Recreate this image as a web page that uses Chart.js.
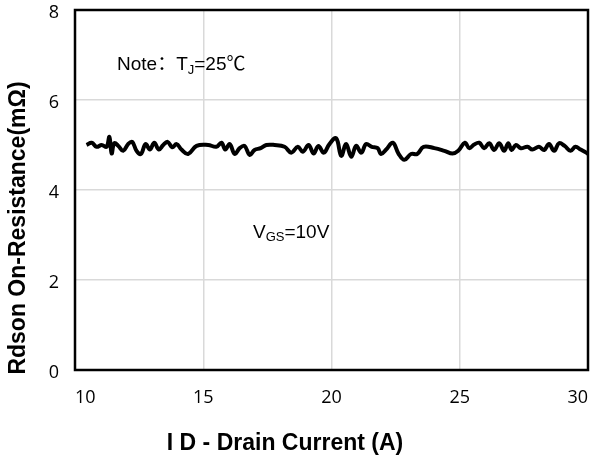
<!DOCTYPE html>
<html>
<head>
<meta charset="utf-8">
<script src="https://cdn.jsdelivr.net/npm/chart.js@4.4.1/dist/chart.umd.min.js"></script>
<style>
  html, body { margin: 0; padding: 0; background: #fff; }
  #wrap { width: 590px; height: 459px; }
</style>
</head>
<body>
<div id="wrap"><canvas id="myChart"></canvas></div>
<script>
// drain current (A) and on-resistance (mOhm)
const currentA = [
  10.45, 10.65, 10.84, 11.04, 11.23, 11.34, 11.43, 11.53, 11.69, 11.88,
  12.07, 12.23, 12.40, 12.57, 12.75, 12.92, 13.09, 13.27, 13.44, 13.61,
  13.79, 13.96, 14.15, 14.41, 14.74, 15.19, 15.51, 15.71, 15.86, 16.03,
  16.23, 16.42, 16.61, 16.81, 17.00, 17.24, 17.46, 17.78, 18.17, 18.43,
  18.69, 18.88, 19.11, 19.30, 19.49, 19.70, 19.92, 20.18, 20.38, 20.57,
  20.77, 20.96, 21.16, 21.35, 21.57, 21.80, 21.93, 22.13, 22.39, 22.61,
  22.84, 23.10, 23.34, 23.59, 24.01, 24.40, 24.72, 24.94, 25.20, 25.37,
  25.56, 25.76, 25.95, 26.15, 26.34, 26.54, 26.73, 26.89, 27.02, 27.19,
  27.38, 27.64, 27.83, 28.09, 28.29, 28.48, 28.68, 28.87, 29.09, 29.32,
  29.51, 29.71, 29.93, 30.00
];
const rdson = [
  5.00, 5.05, 4.96, 5.00, 4.96, 5.18, 4.81, 5.04, 4.98, 4.87,
  5.02, 5.07, 4.87, 4.80, 5.02, 4.90, 5.05, 4.90, 5.00, 5.07,
  4.95, 5.02, 4.90, 4.80, 4.98, 5.00, 4.96, 5.05, 4.90, 5.02,
  4.80, 4.93, 4.98, 4.78, 4.89, 4.93, 5.00, 5.00, 4.96, 4.83,
  4.96, 4.85, 5.00, 4.81, 4.98, 4.83, 5.02, 5.15, 4.76, 5.02,
  4.74, 4.98, 4.83, 5.02, 4.96, 4.93, 4.80, 4.90, 5.05, 4.81,
  4.67, 4.80, 4.80, 4.96, 4.93, 4.87, 4.81, 4.87, 5.05, 4.93,
  5.01, 5.05, 4.93, 5.04, 4.89, 5.04, 4.87, 5.04, 4.89, 5.00,
  4.93, 4.96, 4.90, 4.96, 4.89, 5.02, 4.87, 5.04, 4.98, 4.87,
  4.96, 4.90, 4.83, 4.80
];
const xTicks = [10, 15, 20, 25, 30];
const yTicks = [0, 2, 4, 6, 8];

const xTitle = "I D - Drain Current (A)";
const yTitle = "Rdson On-Resistance(mΩ)";

const textFont = "'Liberation Sans', Arial, 'Noto Sans CJK SC', sans-serif";

// draws a run of text pieces, some as subscripts
function drawRun(ctx, x, y, parts) {
  parts.forEach((p) => {
    ctx.font = `${p.size}px ${textFont}`;
    ctx.fillText(p.t, x, y + (p.dy || 0));
    x += ctx.measureText(p.t).width;
  });
}

const framePlugin = {
  id: "frame",
  afterDraw: (chart) => {
    const { ctx, chartArea: a } = chart;
    ctx.save();
    ctx.strokeStyle = "#000";
    ctx.lineWidth = 2.5;
    ctx.strokeRect(a.left, a.top, a.right - a.left, a.bottom - a.top);

    ctx.fillStyle = "#000";
    ctx.textAlign = "left";
    ctx.textBaseline = "alphabetic";
    drawRun(ctx, 117, 70, [
      { t: "Note：", size: 19 },
      { t: "T", size: 19 },
      { t: "J", size: 13, dy: 4 },
      { t: "=25℃", size: 19 },
    ]);
    drawRun(ctx, 253, 238, [
      { t: "V", size: 19 },
      { t: "GS", size: 13, dy: 3 },
      { t: "=10V", size: 19 },
    ]);

    // axis titles
    ctx.font = `bold 23px ${textFont}`;
    ctx.textAlign = "center";
    ctx.textBaseline = "middle";
    ctx.fillText(xTitle, 285, 444);
    ctx.translate(19, 228);
    ctx.rotate(-Math.PI / 2);
    ctx.fillText(yTitle, 0, 0);
    ctx.restore();
  },
};

const ctx = document.getElementById("myChart").getContext("2d");
new Chart(ctx, {
  type: "line",
  data: {
    datasets: [
      {
        data: currentA.map((x, i) => ({ x: x, y: rdson[i] })),
        borderColor: "#000",
        borderWidth: 4,
        pointRadius: 0,
        tension: 0.4,
        fill: false,
      },
    ],
  },
  plugins: [framePlugin],
  options: {
    responsive: true,
    maintainAspectRatio: false,
    animation: false,
    layout: { padding: { left: 0, right: 2, top: 10, bottom: 0 } },
    plugins: { legend: { display: false }, tooltip: { enabled: false } },
    scales: {
      x: {
        type: "linear",
        min: 10,
        max: 30,
        afterBuildTicks: (axis) => {
          axis.ticks = xTicks.map((v) => ({ value: v }));
        },
        afterFit: (scale) => {
          scale.height = 89;
          scale.paddingLeft = 0;
          scale.paddingRight = 0;
        },
        grid: { color: "#d9d9d9", lineWidth: 1.5, drawTicks: false },
        border: { display: false },
        ticks: {
          align: "inner",
          padding: 17,
          color: "#000",
          font: { family: "'Open Sans'", size: 18 },
        },
      },
      y: {
        min: 0,
        max: 8,
        afterBuildTicks: (axis) => {
          axis.ticks = yTicks.map((v) => ({ value: v }));
        },
        afterFit: (scale) => {
          scale.width = 75;
          scale.paddingTop = 0;
          scale.paddingBottom = 0;
        },
        grid: { color: "#d9d9d9", lineWidth: 1.5, drawTicks: false },
        border: { display: false },
        ticks: {
          padding: 16,
          labelOffset: 3,
          color: "#000",
          font: { family: "'Open Sans'", size: 18 },
        },
      },
    },
  },
});
</script>
</body>
</html>
